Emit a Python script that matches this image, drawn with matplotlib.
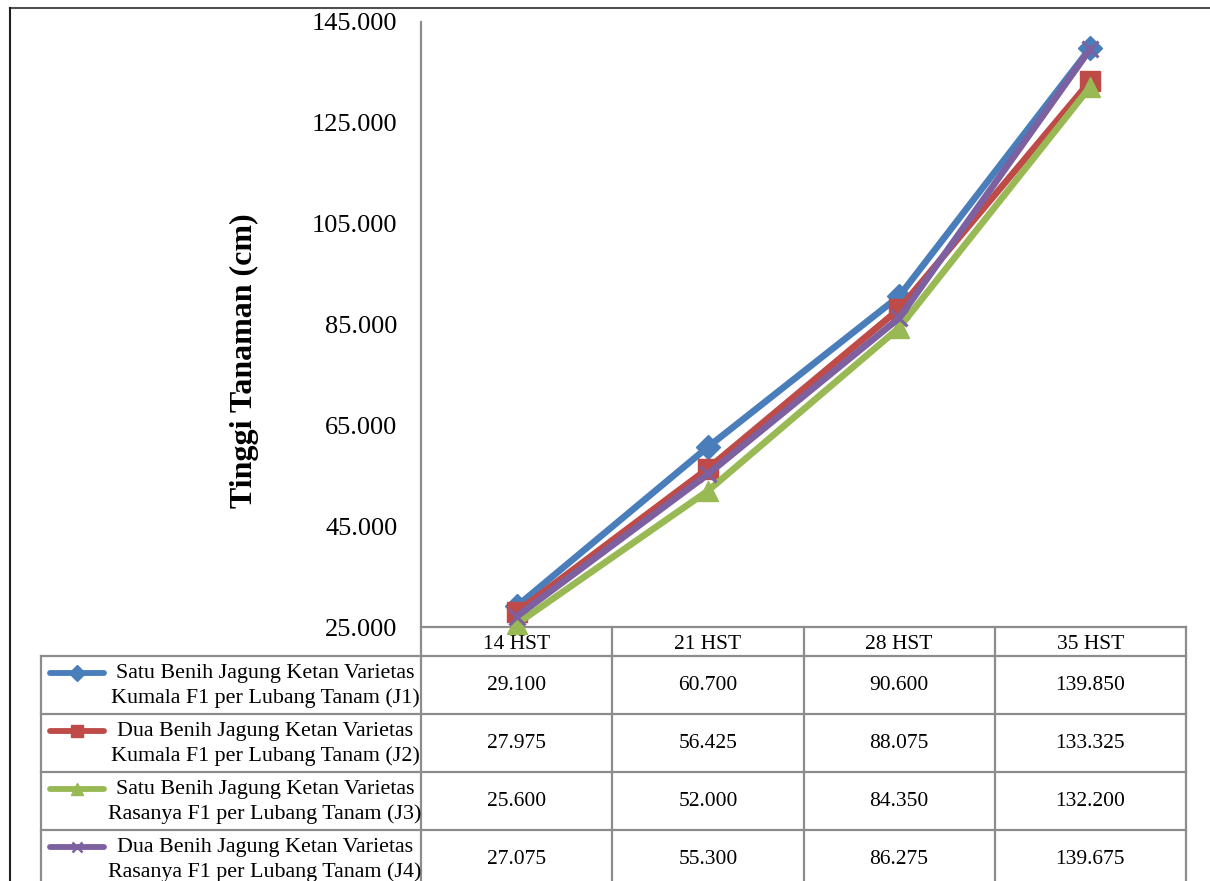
import matplotlib
matplotlib.use("Agg")
import matplotlib.pyplot as plt

# ---- data -------------------------------------------------------------
days = ["14 HST", "21 HST", "28 HST", "35 HST"]
j1 = [29.100, 60.700, 90.600, 139.850]
j2 = [27.975, 56.425, 88.075, 133.325]
j3 = [25.600, 52.000, 84.350, 132.200]
j4 = [27.075, 55.300, 86.275, 139.675]
series_names = [
    "Satu Benih Jagung Ketan Varietas\nKumala F1 per Lubang Tanam (J1)",
    "Dua Benih Jagung Ketan Varietas\nKumala F1 per Lubang Tanam (J2)",
    "Satu Benih Jagung Ketan Varietas\nRasanya F1 per Lubang Tanam (J3)",
    "Dua Benih Jagung Ketan Varietas\nRasanya F1 per Lubang Tanam (J4)",
]
y_ticks = [25, 45, 65, 85, 105, 125, 145]
y_label = "Tinggi Tanaman (cm)"

# ---- styles -----------------------------------------------------------
colors = ["#4A7EBB", "#BE4B48", "#98B954", "#7D60A0"]
markers = ["D", "s", "^", "x"]
msizes = [12, 15, 15, 12]
grid_col = "#8C8C8C"
tab_fs = 15.5

plt.rcParams["font.family"] = ["Liberation Serif", "DejaVu Serif"]

W, H = 1210, 881
fig = plt.figure(figsize=(W / 100, H / 100), dpi=100)

# overlay in pixel units for frame and data table
ov = fig.add_axes([0, 0, 1, 1], zorder=0)
ov.set_xlim(0, W)
ov.set_ylim(H, 0)
ov.axis("off")

# plot area
ax_l, ax_r, ax_t, ax_b = 421, 1186, 22, 627
ax = fig.add_axes([ax_l / W, 1 - ax_b / H, (ax_r - ax_l) / W, (ax_b - ax_t) / H], zorder=2)
ax.set_facecolor("none")

x = list(range(len(days)))
all_series = [j1, j2, j3, j4]
for vals, c, m, ms in zip(all_series, colors, markers, msizes):
    ax.plot(x, vals, color=c, lw=4.8, marker=m, markersize=ms,
            markerfacecolor=c, markeredgecolor=c,
            markeredgewidth=2.2 if m == "x" else 1, clip_on=False,
            solid_joinstyle="round", solid_capstyle="round")

ax.set_xlim(-0.5, len(days) - 0.5)
ax.set_ylim(y_ticks[0], y_ticks[-1])
ax.set_yticks(y_ticks)
ax.set_yticklabels([f"{v:.3f}" for v in y_ticks], fontsize=19)
ax.set_xticks([])
ax.tick_params(axis="y", length=0, pad=17)
for s in ["top", "right", "bottom"]:
    ax.spines[s].set_visible(False)
ax.spines["left"].set_color(grid_col)
ax.spines["left"].set_linewidth(1.6)
ax.set_ylabel(y_label, fontsize=23, fontweight="bold")
ax.yaxis.set_label_coords(-0.212, 0.441)

# ---- data table -------------------------------------------------------
def col_px(xd):
    return ov.transData.inverted().transform(ax.transData.transform((xd, 0)))[0]

bounds = [col_px(b - 0.5) for b in range(len(days) + 1)]
tab_left = 41
head_top, head_bot = 627, 656
row_h = 58
row_edges = [head_bot + i * row_h for i in range(len(all_series) + 1)]
bottom = row_edges[-1]
lw_t = 1.6

# header & grid lines
ov.plot([bounds[0], bounds[-1]], [head_top, head_top], color=grid_col, lw=lw_t)
for yy in row_edges:
    ov.plot([tab_left, bounds[-1]], [yy, yy], color=grid_col, lw=lw_t)
for bx in bounds:
    ov.plot([bx, bx], [head_top, bottom], color=grid_col, lw=lw_t)
ov.plot([tab_left, tab_left], [head_bot, bottom], color=grid_col, lw=lw_t)

for i, d in enumerate(days):
    cx = (bounds[i] + bounds[i + 1]) / 2
    ov.text(cx, (head_top + head_bot) / 2 + 3, d, ha="center", va="center", fontsize=tab_fs)

for r, (vals, name, c, m) in enumerate(zip(all_series, series_names, colors, markers)):
    top = row_edges[r]
    cy = top + row_h / 2
    for i, v in enumerate(vals):
        cx = (bounds[i] + bounds[i + 1]) / 2
        ov.text(cx, cy + 1, f"{v:.3f}", ha="center", va="center", fontsize=tab_fs)
    ov.text(265, cy + 1, name, ha="center", va="center", fontsize=15.8, linespacing=1.38)
    ky = top + 17
    ov.plot([50, 104], [ky, ky], color=c, lw=4.2, solid_capstyle="round")
    ov.plot([77], [ky], marker=m, color=c, markersize=8 if m != "x" else 7,
            markeredgewidth=1.8 if m == "x" else 1)

# outer frame
ov.plot([10, W], [8, 8], color="#505050", lw=1.5)
ov.plot([10, 10], [8, H], color="#202020", lw=1.5)

fig.savefig("out.png", dpi=100)
